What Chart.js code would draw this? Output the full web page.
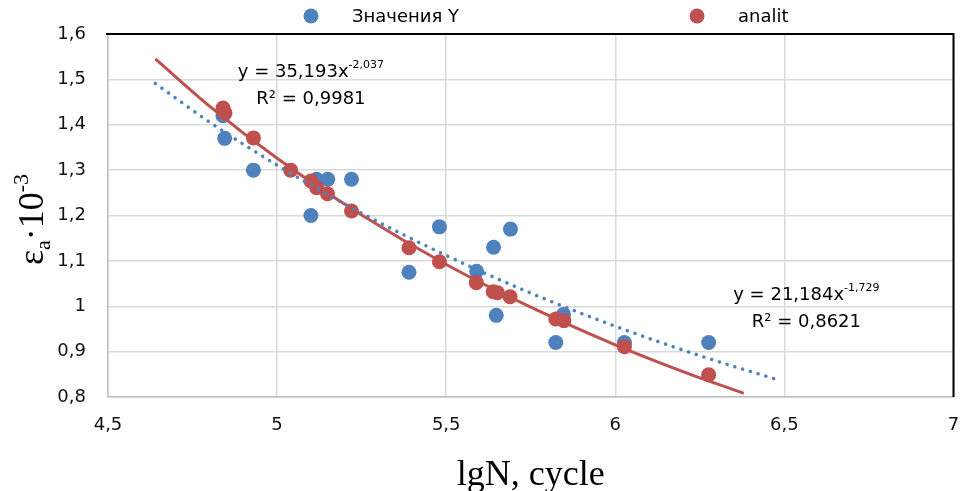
<!DOCTYPE html>
<html>
<head>
  <meta charset="utf-8">
  <script src="https://cdn.jsdelivr.net/npm/chart.js"></script>
  <style>
    body { margin: 0; background: #fff; }
  </style>
</head>
<body>
  <canvas id="myChart" width="961" height="491"></canvas>

  <script>
    // Точки "Значения Y"
    const blueX = [4.84, 4.845, 4.93, 5.10, 5.117, 5.15, 5.22, 5.39, 5.48, 5.59, 5.64, 5.648, 5.69, 5.824, 5.847, 6.027, 6.276];
    const blueY = [1.42, 1.37, 1.30, 1.20, 1.28, 1.28, 1.28, 1.075, 1.175, 1.077, 1.13, 0.98, 1.17, 0.92, 0.982, 0.92, 0.92];

    // Точки "analit"
    const redX = [4.84, 4.846, 4.93, 5.04, 5.10, 5.117, 5.149, 5.22, 5.39, 5.48, 5.589, 5.639, 5.651, 5.689, 5.824, 5.848, 6.027, 6.276];
    const redY = [1.437, 1.426, 1.371, 1.30, 1.276, 1.261, 1.248, 1.21, 1.129, 1.098, 1.052, 1.032, 1.030, 1.021, 0.972, 0.968, 0.911, 0.849];

    // Линии тренда
    const blueTrendX = [4.64, 4.8, 5.0, 5.25, 5.5, 5.75, 6.0, 6.25, 6.48];
    const blueTrendY = [1.491, 1.406, 1.311, 1.205, 1.112, 1.029, 0.956, 0.891, 0.838];
    const redTrendX = [4.64, 4.8, 5.0, 5.25, 5.5, 5.75, 6.0, 6.2, 6.38];
    const redTrendY = [1.545, 1.441, 1.326, 1.201, 1.092, 0.998, 0.915, 0.856, 0.808];

    const blueLabel = 'Значения Y';
    const redLabel = 'analit';
    const blueEq = ['y = 21,184x', '-1,729', 'R² = 0,8621'];
    const redEq = ['y = 35,193x', '-2,037', 'R² = 0,9981'];

    const BLUE = '#4f81bd';
    const RED = '#c0504d';

    const toPoints = (xs, ys) => xs.map((x, i) => ({ x: x, y: ys[i] }));
    const fmt = v => String(Math.round(v * 10) / 10).replace('.', ',');

    // Текст с верхним индексом, центр по cx
    function drawEquation(ctx, cx, cy, eq) {
      ctx.font = '18px "DejaVu Sans"';
      const w1 = ctx.measureText(eq[0]).width;
      ctx.font = '11px "DejaVu Sans"';
      const w2 = ctx.measureText(eq[1]).width;
      const x0 = cx - (w1 + w2) / 2;
      ctx.fillStyle = '#000';
      ctx.textAlign = 'left';
      ctx.textBaseline = 'alphabetic';
      ctx.font = '18px "DejaVu Sans"';
      ctx.fillText(eq[0], x0, cy + 7);
      ctx.font = '11px "DejaVu Sans"';
      ctx.fillText(eq[1], x0 + w1, cy - 2);
      ctx.font = '18px "DejaVu Sans"';
      ctx.textAlign = 'center';
      ctx.fillText(eq[2], cx, cy + 34);
    }

    const decor = {
      id: 'decor',
      afterDraw(chart) {
        const ctx = chart.ctx;
        const a = chart.chartArea;
        const xs = chart.scales.x, ys = chart.scales.y;
        ctx.save();

        // верхняя и правая рамка
        ctx.strokeStyle = '#000';
        ctx.lineWidth = 2;
        ctx.beginPath();
        ctx.moveTo(a.left - 2, a.top);
        ctx.lineTo(a.right, a.top);
        ctx.lineTo(a.right, a.bottom);
        ctx.stroke();

        // легенда
        const items = [[311, chart.data.datasets[0]], [697, chart.data.datasets[1]]];
        ctx.font = '18px "DejaVu Sans"';
        ctx.textBaseline = 'middle';
        ctx.textAlign = 'left';
        items.forEach(([px, ds]) => {
          ctx.fillStyle = ds.backgroundColor;
          ctx.beginPath();
          ctx.arc(px, 16, 7.5, 0, Math.PI * 2);
          ctx.fill();
          ctx.fillStyle = '#000';
          ctx.fillText(ds.label, px + 41, 17);
        });

        // уравнения трендов
        drawEquation(ctx, xs.getPixelForValue(5.1), ys.getPixelForValue(1.52), redEq);
        drawEquation(ctx, xs.getPixelForValue(6.565), ys.getPixelForValue(1.03), blueEq);

        // подпись оси X
        ctx.fillStyle = '#000';
        ctx.font = '36px "Liberation Serif"';
        ctx.textAlign = 'center';
        ctx.textBaseline = 'alphabetic';
        ctx.fillText('lgN, cycle', (a.left + a.right) / 2, 485);

        // подпись оси Y: εa·10-3
        ctx.translate(43, (a.top + a.bottom) / 2 + 4);
        ctx.rotate(-Math.PI / 2);
        const big = '36px "Liberation Serif"', small = '22px "Liberation Serif"';
        const parts = [['ε', big, 0], ['a', small, 7], ['·10', big, 0], ['-3', small, -15]];
        let total = 0;
        parts.forEach(p => { ctx.font = p[1]; total += ctx.measureText(p[0]).width; });
        let x = -total / 2;
        ctx.textAlign = 'left';
        parts.forEach(p => {
          ctx.font = p[1];
          ctx.fillText(p[0], x, p[2]);
          x += ctx.measureText(p[0]).width;
        });

        ctx.restore();
      }
    };

    const ctx = document.getElementById('myChart').getContext('2d');
    new Chart(ctx, {
      type: 'scatter',
      data: {
        datasets: [
          {
            label: blueLabel,
            data: toPoints(blueX, blueY),
            backgroundColor: BLUE,
            borderColor: BLUE,
            pointRadius: 7.5,
            borderWidth: 0,
            order: 3
          },
          {
            label: redLabel,
            data: toPoints(redX, redY),
            backgroundColor: RED,
            borderColor: RED,
            pointRadius: 7.5,
            borderWidth: 0,
            order: 2
          },
          {
            label: 'trend Y',
            data: toPoints(blueTrendX, blueTrendY),
            showLine: true,
            pointRadius: 0,
            borderColor: BLUE,
            borderWidth: 3.5,
            borderDash: [0.1, 8],
            borderCapStyle: 'round',
            cubicInterpolationMode: 'monotone',
            order: 0
          },
          {
            label: 'trend analit',
            data: toPoints(redTrendX, redTrendY),
            showLine: true,
            pointRadius: 0,
            borderColor: RED,
            borderWidth: 3,
            cubicInterpolationMode: 'monotone',
            order: 1
          }
        ]
      },
      options: {
        responsive: false,
        animation: false,
        devicePixelRatio: 1,
        layout: { padding: { top: 34, right: 2, left: 0, bottom: 0 } },
        plugins: {
          legend: { display: false },
          tooltip: { enabled: false }
        },
        scales: {
          x: {
            type: 'linear',
            min: 4.5,
            max: 7,
            afterFit: s => { s.height = 94; s.paddingRight = 0; s.paddingLeft = 0; },
            ticks: {
              stepSize: 0.5,
              autoSkip: false,
              maxRotation: 0,
              padding: 18,
              color: '#111',
              font: { family: 'DejaVu Sans', size: 18 },
              callback: v => fmt(v)
            },
            grid: { color: '#d9d9d9', lineWidth: 1.5, drawTicks: false },
            border: { color: '#bfbfbf', width: 1.5 }
          },
          y: {
            min: 0.8,
            max: 1.6,
            afterFit: s => { s.width = 108; },
            ticks: {
              stepSize: 0.1,
              padding: 22,
              color: '#111',
              font: { family: 'DejaVu Sans', size: 18 },
              callback: v => fmt(v)
            },
            grid: { color: '#d9d9d9', lineWidth: 1.5, drawTicks: false },
            border: { color: '#bfbfbf', width: 1.5 }
          }
        }
      },
      plugins: [decor]
    });
  </script>
</body>
</html>
